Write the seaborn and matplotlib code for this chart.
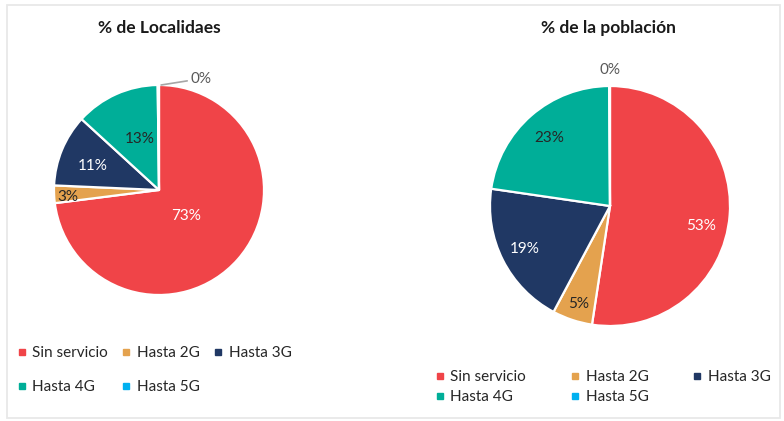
import matplotlib
matplotlib.use('Agg')
import matplotlib.pyplot as plt
import seaborn as sns
import numpy as np
from matplotlib.lines import Line2D
from matplotlib.patches import Rectangle

# ---- data ----
categories = ["Sin servicio", "Hasta 2G", "Hasta 3G", "Hasta 4G", "Hasta 5G"]
localidades = [73.0, 2.7, 11.1, 13.0, 0.2]
poblacion = [52.4, 5.4, 19.5, 22.6, 0.1]
loc_labels = ["73%", "3%", "11%", "13%", "0%"]
pob_labels = ["53%", "5%", "19%", "23%", "0%"]
titles = ["% de Localidaes", "% de la población"]

# ---- style ----
colors = ["#F04448", "#E4A24E", "#203864", "#00AE98", "#00B0F0"]
label_colors = ["white", "#262626", "white", "#262626", "#595959"]

sns.set_theme(style="white")
plt.rcParams['font.family'] = ['Lato', 'DejaVu Sans']

W, H = 784, 421
fig = plt.figure(figsize=(W / 100, H / 100), dpi=100)
fig.patch.set_facecolor('white')
fig.patches.append(Rectangle((7 / W, 3 / H), 773 / W, 413 / H, transform=fig.transFigure,
                             fill=False, edgecolor='#e8e8e8', lw=1.3))


def pie_axes(cx, cy, r):
    ax = fig.add_axes([(cx - r) / W, (H - cy - r) / H, 2 * r / W, 2 * r / H])
    ax.set_axis_off()
    return ax


def draw_pie(ax, values, labels, label_pos, zero_line=False):
    wedges, _ = ax.pie(values, colors=colors, startangle=90, counterclock=False,
                       radius=1.0, wedgeprops=dict(edgecolor='white', linewidth=1.6))
    ax.set_xlim(-1, 1)
    ax.set_ylim(-1, 1)
    for i, (lab, pos) in enumerate(zip(labels, label_pos)):
        if i == 4 and zero_line:
            ax.annotate(lab, xy=(0.02, 1.0), xytext=pos, textcoords='data',
                        ha='left', va='center', fontsize=11, color=label_colors[i],
                        arrowprops=dict(arrowstyle='-', color='#a6a6a6', lw=1.2,
                                        shrinkA=0, shrinkB=0), annotation_clip=False)
        else:
            ax.text(pos[0], pos[1], lab, ha='center', va='center', fontsize=11,
                    color=label_colors[i], clip_on=False)
    return wedges


# left pie
axL = pie_axes(159, 190, 105)
posL = [(0.26, -0.25), (-0.87, -0.07), (-0.63, 0.23), (-0.18, 0.49), (0.30, 1.06)]
draw_pie(axL, localidades, loc_labels, posL, zero_line=True)

# right pie
axR = pie_axes(610, 206, 120)
posR = [(0.76, -0.17), (-0.26, -0.82), (-0.71, -0.36), (-0.51, 0.57), (0.0, 1.13)]
draw_pie(axR, poblacion, pob_labels, posR)

# titles
fig.text(159 / W, 1 - 28 / H, titles[0], ha='center', va='center', fontsize=12.5,
         fontweight='bold', color='#1a1a1a')
fig.text(608 / W, 1 - 28 / H, titles[1], ha='center', va='center', fontsize=12.5,
         fontweight='bold', color='#1a1a1a')

# legends (row-major display with ncol=3)
order = [0, 3, 1, 4, 2]
handles = [Line2D([], [], marker='s', linestyle='none', markersize=5,
                  markerfacecolor=colors[i], markeredgecolor=colors[i]) for i in order]
labs = [categories[i] for i in order]

fig.legend(handles, labs, loc='upper left', bbox_to_anchor=(11 / W, 1 - 340 / H),
           ncol=3, frameon=False, fontsize=11, handlelength=0.6, handletextpad=0.4,
           columnspacing=0.9, labelspacing=1.3, borderaxespad=0, labelcolor='#262626')
fig.legend(handles, labs, loc='upper left', bbox_to_anchor=(429 / W, 1 - 364 / H),
           ncol=3, frameon=False, fontsize=11, handlelength=0.6, handletextpad=0.4,
           columnspacing=2.9, labelspacing=0.4, borderaxespad=0, labelcolor='#262626')

fig.savefig('out.png', dpi=100, facecolor='white')
